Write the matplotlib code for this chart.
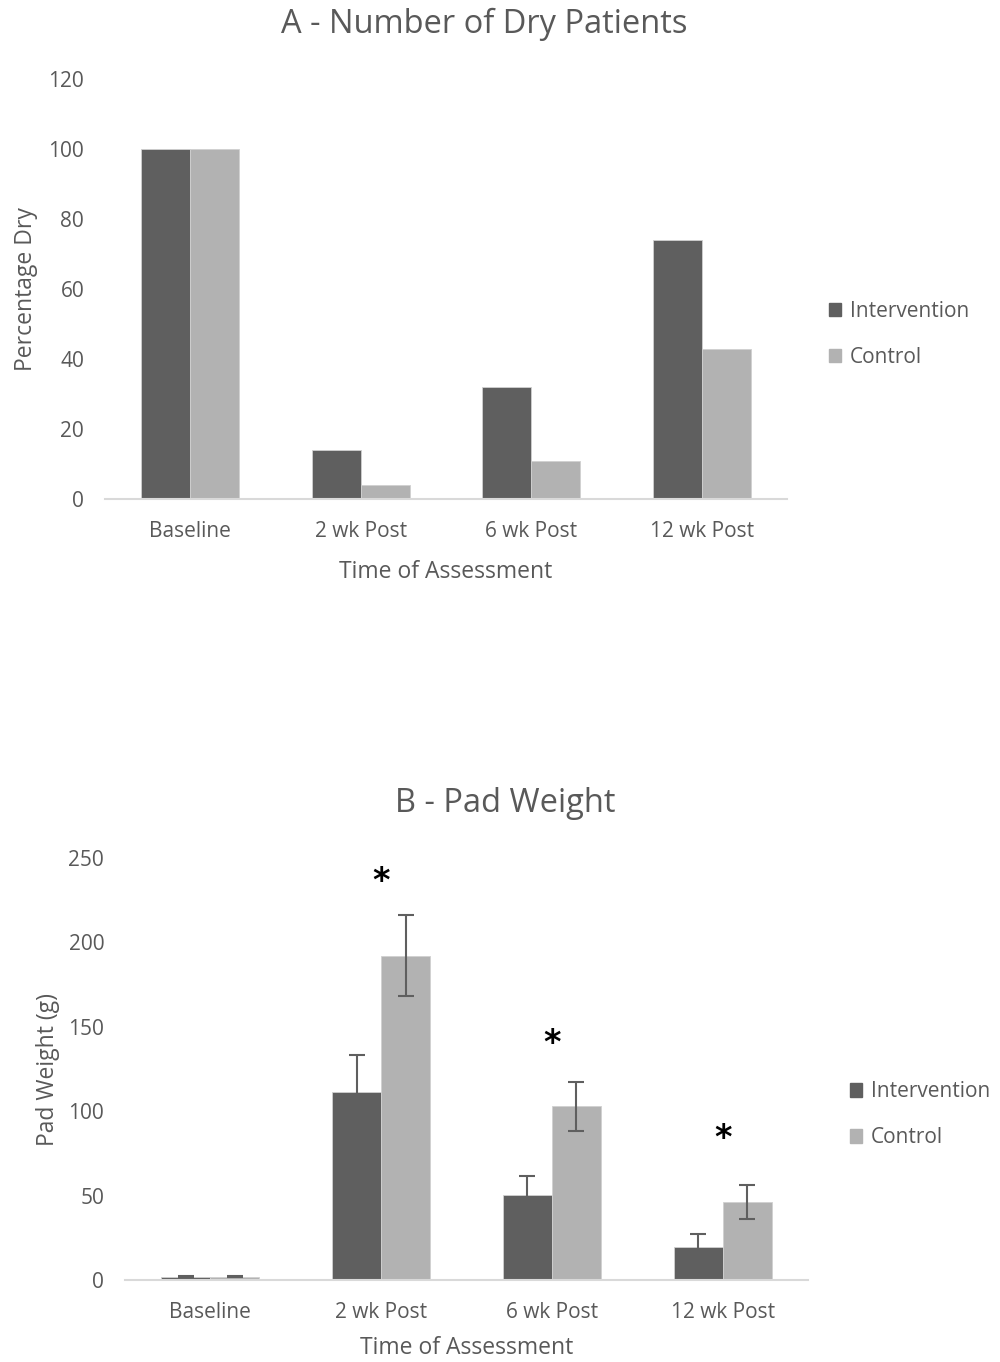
import numpy as np
import matplotlib
matplotlib.use('Agg')
import matplotlib.pyplot as plt
from matplotlib.patches import Patch

plt.rcParams['font.family'] = ['Open Sans', 'DejaVu Sans']

categories = ['Baseline', '2 wk Post', '6 wk Post', '12 wk Post']
series = ['Intervention', 'Control']

# panel A - percentage dry
dry_int = [100, 14, 32, 74]
dry_ctl = [100, 4, 11, 43]

# panel B - pad weight (g) with error bars
pad_int = [2, 111.5, 50.5, 19.5]
pad_ctl = [2, 192, 103, 46]
err_int = [0.5, 22, 11, 8]
err_ctl = [0.5, 24, 14.5, 10]
star_y = [None, 236, 140, 84]

dark = '#5f5f5f'
light = '#b2b2b2'
grey_txt = '#595959'

fig = plt.figure(figsize=(10, 13.62), dpi=100)
axA = fig.add_axes([0.105, 0.6336, 0.682, 0.3084])
axB = fig.add_axes([0.125, 0.0602, 0.683, 0.3098])

x = np.arange(len(categories))
w = 0.287


def style(ax, ymax, step, lpad):
    ax.set_xlim(-0.5, len(categories) - 0.5)
    ax.set_ylim(0, ymax)
    ax.set_yticks(np.arange(0, ymax + 1, step))
    ax.set_xticks(x)
    ax.set_xticklabels(categories)
    for s in ['top', 'right', 'left']:
        ax.spines[s].set_visible(False)
    ax.spines['bottom'].set_color('#d9d9d9')
    ax.spines['bottom'].set_linewidth(1.5)
    ax.tick_params(length=0, labelsize=15, colors=grey_txt, pad=16)
    ax.tick_params(axis='y', pad=15)
    ax.set_xlabel('Time of Assessment', fontsize=16.5, color=grey_txt, labelpad=lpad)


# A
axA.bar(x - w / 2, dry_int, w, color=dark, edgecolor='#d0d0d0', linewidth=0.6)
axA.bar(x + w / 2, dry_ctl, w, color=light, edgecolor='#d0d0d0', linewidth=0.6)
style(axA, 120, 20, 13)
axA.set_ylabel('Percentage Dry', fontsize=16.5, color=grey_txt)
axA.yaxis.set_label_coords(-0.0985, 0.5)
fig.text(0.484, 0.982, 'A - Number of Dry Patients', fontsize=23.5, color=grey_txt,
         ha='center', va='center')

# B
axB.bar(x - w / 2, pad_int, w, color=dark, edgecolor='#d0d0d0', linewidth=0.6)
axB.bar(x + w / 2, pad_ctl, w, color=light, edgecolor='#d0d0d0', linewidth=0.6)
axB.errorbar(x - w / 2, pad_int, yerr=err_int, fmt='none', ecolor='#5f5f5f',
             elinewidth=1.5, capsize=6, capthick=1.5)
axB.errorbar(x + w / 2, pad_ctl, yerr=err_ctl, fmt='none', ecolor='#5f5f5f',
             elinewidth=1.5, capsize=6, capthick=1.5)
for i, sy in enumerate(star_y):
    if sy is not None:
        axB.text(x[i], sy, '*', fontsize=24, fontweight='bold', ha='center',
                 va='center', color='black', family='DejaVu Sans')
style(axB, 250, 50, 9)
axB.set_ylabel('Pad Weight (g)', fontsize=16.5, color=grey_txt)
axB.yaxis.set_label_coords(-0.095, 0.5)
fig.text(0.505, 0.41, 'B - Pad Weight', fontsize=23.5, color=grey_txt,
         ha='center', va='center')

handles = [Patch(color=dark), Patch(color=light)]
fig.legend(handles, series, loc='center left', bbox_to_anchor=(0.81, 0.7545),
           frameon=False, fontsize=15, labelcolor=grey_txt, handlelength=0.6,
           handleheight=0.6, handletextpad=0.4, labelspacing=1.2)
fig.legend(handles, series, loc='center left', bbox_to_anchor=(0.831, 0.1815),
           frameon=False, fontsize=15, labelcolor=grey_txt, handlelength=0.6,
           handleheight=0.6, handletextpad=0.4, labelspacing=1.2)

fig.savefig('out.png', dpi=100, facecolor='white')
